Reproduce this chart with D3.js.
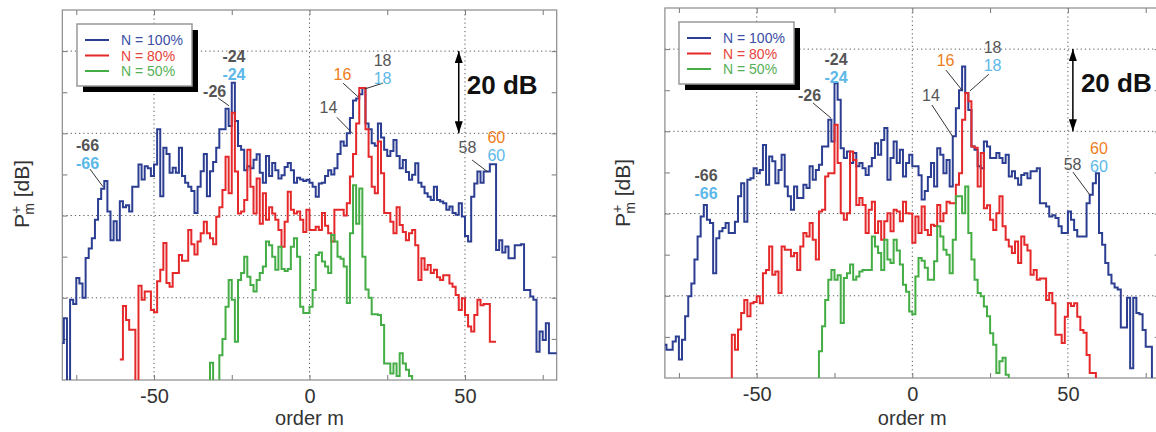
<!DOCTYPE html>
<html>
<head>
<meta charset="utf-8">
<script src="https://cdn.jsdelivr.net/npm/d3@7"></script>
<style>
  body { margin: 0; background: #fff; }
  svg { display: block; font-family: "Liberation Sans", Arial, sans-serif; }
</style>
</head>
<body>
<svg id="chart" width="1156" height="432"></svg>
<script>
// legend + axes
const legendLabels = ["N = 100%", "N = 80%", "N = 50%"];
const xMajorTicks = [-50, 0, 50];
const xMinorTicks = [-75, -25, 25, 75];
const yGridLines = [20, 40, 60, 80];
const yTicks = [10, 20, 30, 40, 50, 60, 70, 80];

// left panel, P_m+ in dB (0 = bottom of the axes), one value per order m
const aBlueFrom = -80;
const aBlue = [
  9, 9, 15, -5, 19.5, 18.5, 24.8, 23.5, 20, 29.7,
  32, 34.5, 39, 44, 46.5, 48.4, 41, 34, 38.6, 34,
  43.5, 42, 42.5, 41, 47, 47, 52.4, 48.8, 52, 51.5,
  49.6, 52.4, 61, 44.7, 56.5, 55, 50.4, 51.6, 50.4, 56.5,
  49.6, 48, 47, 46, 40.6, 47, 50.8, 55, 44.7, 50.8,
  53, 56.5, 61, 61, 66, 61.8, 72.3, 63, 56.9, 56,
  51, 52, 51.5, 53.6, 54.9, 50.4, 48, 54.5, 49.6, 52.8,
  51, 49, 49.8, 51.8, 52.8, 51, 48, 49.2, 48.8, 48.4,
  48.7, 48, 47, 44.6, 47.8, 48, 49.6, 51, 50, 51.5,
  55, 58, 57, 60, 63.7, 68, 68.5, 69.5, 71, 62.4,
  61, 57.6, 57, 62.4, 59, 56, 54.5, 55.7, 58.4, 54.5,
  51.5, 53.5, 50.6, 48.7, 49.9, 52.7, 48, 47, 45.4, 44.6,
  43.8, 47, 43.8, 43.4, 43, 41.4, 42.2, 40.6, 40.2, 43,
  39.8, 35, 33.7, 44.6, 47.8, 50.7, 48, 50.7, 50.7, 52.5,
  52.5, 31.6, 34, 31, 32.5, 29.6, 29.6, 32.8, 32.8, 33,
  21.9, 21.9, 20.3, 19.5, 6.9, 11.8, 9.7, 13.8, 6.5, 6.5, 6.5
];
const aRedFrom = -61;
const aRed = [
  5, 5, 18, 14.6, 12.2, 12.2, -5, 22.9, 19.5, 21.5,
  21.5, 17, 16.5, 24, 26.8, 33.3, 23.6, 22.7, 26, 26,
  30.4, 29, 29, 36.5, 33, 30.5, 33.7, 35.7, 38.5, 35.7,
  34.5, 33, 39.7, 42, 46.2, 54.3, 45.4, 65, 50.7, 40.5,
  41, 43.8, 56, 47, 40.5, 49, 38, 45.4, 39, 42,
  40.5, 39, 36.5, 32.4, 38.5, 45.8, 41.4, 40.5, 41, 39,
  36, 41.4, 36.5, 36.5, 37.3, 36.5, 40.6, 37.5, 35.7, 33.7,
  41.4, 41.4, 41.4, 40, 43, 49.5, 55, 62.4, 71, 71,
  61, 54.3, 47, 45.4, 58, 50.3, 40.6, 40.6, 38.5, 35.7,
  42, 37.7, 36, 34, 35.7, 36.5, 32.8, 24.3, 29.6, 26.8,
  28, 26, 26.8, 25, 24.3, 25.5, 25.5, 23.5, 22.7, 20.7,
  17, 19.9, 15.8, 13, 11.8, 15.8, 19.5, 18.2, 18.5, 18.5,
  9.3, 9.3
];
const aGreenFrom = -32;
const aGreen = [
  -5, 4.2, -5, -5, 6, 10, 17.8, 24.3, 19.5, 9.3,
  24.3, 26, 30, 25.1, 23.1, 21.5, 24.3, 26, 27.6, 33.7,
  32.8, 30, 26.8, 32.4, 27, 26.5, 27, 32.4, 34.5, 30,
  17.8, 16.3, 16.3, 17.8, 21.9, 30.4, 31, 28.8, 27.6, 26,
  35.3, 33.7, 30, 29.5, 27.6, 18.7, 35.7, 47.4, 38, 46.6,
  30, 22, 20, 16, 16, 15.8, 13.4, 4, 4, 1.6,
  4, 1, 6.5, 4, 2.5, 1, -5
];

// right panel
const bBlueFrom = -80;
const bBlue = [
  -5,
  8.1, 6.9, 6.9, 8.9, 10.1, 4.5, 9.3, 15, 19.9, 23,
  28.8, 34.4, 39.3, 42.1, 38.5, 37.7, 25.5, 34, 35.7, 36.5,
  37.7, 35.3, 35.3, 38, 44.2, 47.4, 38, 48.2, 48.6, 51,
  49.8, 50.6, 56.7, 47, 53.9, 52.7, 47.4, 50.6, 54.3, 46.6,
  44.2, 40.9, 46.6, 43.8, 43.8, 47, 46.2, 51.5, 48.2, 50.6,
  51.9, 56.3, 56.3, 62.8, 57.5, 71.7, 67.7, 55.9, 53.5, 55.1,
  52.3, 54.7, 51.5, 52.3, 51, 49.4, 51.5, 53.5, 57.1, 54.3,
  57.9, 60.8, 48.2, 53.5, 57.5, 52.3, 55.5, 49, 52.3, 54.3,
  51.5, 51.5, 49.3, 43.4, 45.5, 48.9, 52.3, 46.6, 55.9, 54.3,
  49.8, 53, 46.6, 58.8, 65.6, 70, 75.8, 69.3, 65.2, 56.3,
  55.5, 51.5, 51, 57.5, 56.3, 53.5, 53.5, 54.7, 53.5, 52.3,
  54.3, 49, 50.3, 48.6, 47, 49.4, 49.8, 48.6, 50.3, 50.3,
  51, 42.5, 42.5, 41.7, 39.3, 39.6, 38.9, 36.9, 35.3, 35.3,
  40.5, 38.5, 36, 34.4, 34.4, 34.4, 42.5, 44.6, 47.4, 49.8,
  35.3, 32.4, 28, 25.1, 23, 22, 21.5, 12.3, 12.3, 19.5,
  2.4, 19.5, 15.8, 15.5, 11.7, 7.6, 7.6, -5, -5, -5
];
const bRedFrom = -58;
const bRed = [
  -5,
  10.5, 6.9, 11.8, 15.8, 19, 15, 18.2, 18.5, 19.9, 18.2,
  25.5, 26.3, 32, 25.1, 25.9, 20.7, 32, 31.2, 31.2, 29.6,
  30.4, 26.3, 32, 35.3, 34.4, 37.7, 33.6, 28.8, 40.5, 40.9,
  49, 49.8, 49.8, 61.6, 52.3, 40.1, 38.5, 40.1, 55.1, 53,
  42.1, 43.8, 42.1, 35.3, 40.9, 42.9, 35.3, 38.1, 33.6, 38.1,
  40.1, 35.7, 40.9, 40.5, 38.1, 42.9, 40.1, 40, 32.9, 39.3,
  35.3, 41.7, 36, 34.8, 37.3, 37, 42.1, 38.1, 40.1, 42.9,
  42.5, 42.5, 47, 49.8, 62.8, 69.3, 67.3, 56.3, 56, 46.6,
  54.7, 41.3, 42, 38.5, 36, 40.1, 44.2, 36.9, 33.6, 32,
  30.4, 33.2, 28, 34.4, 32.4, 31, 25.1, 26.3, 23.9, 24.2,
  24.2, 19, 20.7, 18.2, 10.5, 10.5, 8.5, 14.9, 18.2, 17.5,
  18.2, 14.9, 11.7, 11, 5.6, 1.2, 1.2, -5
];
const bGreenFrom = -30;
const bGreen = [
  -5,
  6.5, 12.6, 19, 23.9, 26.3, 23.9, 25, 13.4, 24.3, 25.5,
  27.6, 23.9, 24.7, 25.9, 26.3, 26.3, 26.3, 34.4, 32, 30.4,
  26.3, 33.6, 28.8, 28, 33.6, 31, 27.6, 22.7, 21, 16.2,
  15.5, 24.7, 29.2, 28.5, 26.8, 23.9, 23.9, 28.4, 36.9, 34.4,
  31.2, 30, 25.5, 33.6, 44.2, 44.2, 40.1, 46.6, 35.3, 28.8,
  23.9, 20.7, 19.9, 17.4, 15, 10.9, 8.1, 1.2, 4.1, 4.9,
  0.8, -5
];

// order labels: [m, dB, lines of [text, kind]]
const aNotes = [
  [-24.3, 77.4, [["-24", "grey"], ["-24", "cyan"]]],
  [-30.5, 68.8, [["-26", "grey"]]],
  [-71.4, 55.6, [["-66", "grey"], ["-66", "cyan"]]],
  [10.6, 73, [["16", "orange"]]],
  [23.5, 76.5, [["18", "grey"], ["18", "cyan"]]],
  [6.1, 64.9, [["14", "grey"]]],
  [50.8, 55.2, [["58", "grey"]]],
  [60.1, 57.6, [["60", "orange"], ["60", "cyan"]]]
];
const aLeaders = [
  [-29.4, 68.6, -25.9, 66.7], [-70.6, 51.3, -66.4, 47],
  [10.8, 72.2, 15.6, 68.9], [23.6, 72.2, 17.8, 70.8],
  [8.8, 63.9, 13.7, 60.1], [52.3, 53.5, 57.4, 50.6]
];
const bNotes = [
  [-24.5, 76.2, [["-24", "grey"], ["-24", "cyan"]]],
  [-33, 67.4, [["-26", "grey"]]],
  [-66.3, 48, [["-66", "grey"], ["-66", "cyan"]]],
  [10.7, 75.9, [["16", "orange"]]],
  [25.8, 79.1, [["18", "grey"], ["18", "cyan"]]],
  [6, 67.4, [["14", "grey"]]],
  [51.5, 50.6, [["58", "grey"]]],
  [60, 54.6, [["60", "orange"], ["60", "cyan"]]]
];
const bLeaders = [
  [-31.9, 66.9, -26.1, 63.2],
  [10.8, 74.9, 16, 70], [24.6, 73.9, 18.5, 69.8],
  [6.3, 66.4, 13.1, 58.6], [51.6, 50.1, 57.1, 44.5]
];

const seriesColors = ["#2c3e92", "#e5292b", "#45ad45"];
const legendTextColors = ["#3a4ea6", "#e8433c", "#55b055"];
const noteColors = { grey: "#555555", cyan: "#5bb8e8", orange: "#ee7d1c" };

const svg = d3.select("#chart");

const defs = svg.append("defs");
defs.append("marker")
  .attr("id", "head")
  .attr("viewBox", "0 0 12 8")
  .attr("refX", 12)
  .attr("refY", 4)
  .attr("markerWidth", 12)
  .attr("markerHeight", 8)
  .attr("markerUnits", "userSpaceOnUse")
  .attr("orient", "auto-start-reverse")
  .append("path")
  .attr("d", "M0,0 L12,4 L0,8 z")
  .attr("fill", "#000");

function drawPanel(p) {
  const g = svg.append("g").attr("id", p.id);

  const x = d3.scaleLinear().domain([-79.5, 79.5]).range([p.left, p.right]);
  const y = d3.scaleLinear().domain([0, 90]).range([p.bottom, p.top]);

  defs.append("clipPath")
    .attr("id", "clip-" + p.id)
    .append("rect")
    .attr("x", p.left)
    .attr("y", p.top)
    .attr("width", p.right - p.left)
    .attr("height", p.bottom - p.top);

  // dotted grid
  g.selectAll(".vgrid")
    .data(xMajorTicks)
    .enter()
    .append("line")
    .attr("x1", (d) => x(d))
    .attr("x2", (d) => x(d))
    .attr("y1", p.top)
    .attr("y2", p.bottom)
    .attr("stroke", "#555")
    .attr("stroke-width", 1)
    .attr("stroke-dasharray", "1.2,3");
  g.selectAll(".hgrid")
    .data(yGridLines)
    .enter()
    .append("line")
    .attr("x1", p.left)
    .attr("x2", p.right)
    .attr("y1", (d) => y(d))
    .attr("y2", (d) => y(d))
    .attr("stroke", "#555")
    .attr("stroke-width", 1)
    .attr("stroke-dasharray", "1.2,3");

  // axes with inward ticks
  const xAll = xMinorTicks.concat(xMajorTicks);
  const bottomAxis = g.append("g")
    .attr("transform", `translate(0,${p.bottom})`)
    .call(d3.axisBottom(x).tickValues(xAll).tickSize(-5).tickSizeOuter(0).tickPadding(9)
      .tickFormat((d) => (xMajorTicks.includes(d) ? String(d) : "")));
  g.append("g")
    .attr("transform", `translate(0,${p.top})`)
    .call(d3.axisTop(x).tickValues(xAll).tickSize(-5).tickSizeOuter(0).tickFormat(""));
  g.append("g")
    .attr("transform", `translate(${p.left},0)`)
    .call(d3.axisLeft(y).tickValues(yTicks).tickSize(-5).tickSizeOuter(0).tickFormat(""));
  g.append("g")
    .attr("transform", `translate(${p.right},0)`)
    .call(d3.axisRight(y).tickValues(yTicks).tickSize(-5).tickSizeOuter(0).tickFormat(""));
  g.selectAll(".domain").remove();
  g.selectAll(".tick line").attr("stroke", "#777");
  bottomAxis.selectAll("text")
    .attr("fill", "#333")
    .style("font-size", "20px")
    .style("font-family", "'Liberation Sans', Arial, sans-serif");

  // box
  g.append("rect")
    .attr("x", p.left)
    .attr("y", p.top)
    .attr("width", p.right - p.left)
    .attr("height", p.bottom - p.top)
    .attr("fill", "none")
    .attr("stroke", "#8a8a8a")
    .attr("stroke-width", 1.2);

  // stair lines
  const line = d3.line()
    .x((d) => x(d.m))
    .y((d) => y(d.v))
    .curve(d3.curveStepBefore);
  const plot = g.append("g").attr("clip-path", `url(#clip-${p.id})`);
  p.series.forEach((s, i) => {
    const pts = s.values.map((v, k) => ({ m: s.from + k, v: v }));
    plot.append("path")
      .datum(pts)
      .attr("d", line)
      .attr("fill", "none")
      .attr("stroke", seriesColors[i])
      .attr("stroke-width", 2)
      .attr("stroke-linejoin", "miter");
  });

  // legend
  const lg = g.append("g").attr("transform", `translate(${p.legendX},${p.legendY})`);
  lg.append("rect")
    .attr("x", 6).attr("y", 6).attr("width", 115).attr("height", 62)
    .attr("fill", "#000");
  lg.append("rect")
    .attr("width", 115).attr("height", 62)
    .attr("fill", "#fff")
    .attr("stroke", "#999")
    .attr("stroke-width", 1.5);
  legendLabels.forEach((lab, i) => {
    const ly = 16 + i * 15.5;
    lg.append("line")
      .attr("x1", 8).attr("x2", 32)
      .attr("y1", ly).attr("y2", ly)
      .attr("stroke", seriesColors[i])
      .attr("stroke-width", 2);
    lg.append("text")
      .attr("x", 44).attr("y", ly + 5)
      .attr("fill", legendTextColors[i])
      .style("font-size", "14px")
      .text(lab);
  });

  // order labels and leader lines
  g.selectAll(".lead")
    .data(p.leaders)
    .enter()
    .append("line")
    .attr("x1", (d) => x(d[0]))
    .attr("y1", (d) => y(d[1]))
    .attr("x2", (d) => x(d[2]))
    .attr("y2", (d) => y(d[3]))
    .attr("stroke", "#333")
    .attr("stroke-width", 1);
  const notes = g.selectAll(".note")
    .data(p.notes)
    .enter()
    .append("text")
    .attr("x", (d) => x(d[0]))
    .attr("y", (d) => y(d[1]))
    .attr("text-anchor", "middle")
    .style("font-size", "16px")
    .style("font-weight", (d) => (d[2][0][0].startsWith("-") ? "bold" : "normal"));
  notes.selectAll("tspan")
    .data((d) => d[2].map((row) => ({ row: row, x: x(d[0]) })))
    .enter()
    .append("tspan")
    .attr("x", (t) => t.x)
    .attr("dy", (t, i) => (i === 0 ? 0 : 18))
    .attr("fill", (t) => noteColors[t.row[1]])
    .text((t) => t.row[0]);

  // 20 dB scale arrow
  g.append("line")
    .attr("x1", x(p.arrowM)).attr("x2", x(p.arrowM))
    .attr("y1", y(80)).attr("y2", y(60))
    .attr("stroke", "#000")
    .attr("stroke-width", 1.5)
    .attr("marker-start", "url(#head)")
    .attr("marker-end", "url(#head)");
  g.append("text")
    .attr("x", x(p.arrowM) + 8)
    .attr("y", y(69.5))
    .style("font-size", "26px")
    .style("font-weight", "bold")
    .attr("fill", "#111")
    .text("20 dB");

  // axis titles
  g.append("text")
    .attr("x", x(0))
    .attr("y", 425)
    .attr("text-anchor", "middle")
    .attr("fill", "#333")
    .style("font-size", "20px")
    .text("order m");

  const yl = g.append("text")
    .attr("transform", `translate(${p.ylabelX},${p.ylabelY}) rotate(-90)`)
    .attr("text-anchor", "middle")
    .attr("fill", "#333")
    .style("font-size", "21px");
  yl.append("tspan").text("P");
  yl.append("tspan").attr("dy", -8).style("font-size", "14px").text("+");
  yl.append("tspan").attr("dx", -9).attr("dy", 13).style("font-size", "14px").text("m");
  yl.append("tspan").attr("dy", -5).text(" [dB]");
}

drawPanel({
  id: "a", left: 62.3, right: 556.7, top: 10, bottom: 380,
  legendX: 77, legendY: 24, ylabelX: 29, ylabelY: 194, arrowM: 48,
  series: [
    { values: aBlue, from: aBlueFrom },
    { values: aRed, from: aRedFrom },
    { values: aGreen, from: aGreenFrom }
  ],
  notes: aNotes, leaders: aLeaders
});

drawPanel({
  id: "b", left: 664.9, right: 1159.7, top: 8, bottom: 378,
  legendX: 679, legendY: 22, ylabelX: 630, ylabelY: 193, arrowM: 51.6,
  series: [
    { values: bBlue, from: bBlueFrom },
    { values: bRed, from: bRedFrom },
    { values: bGreen, from: bGreenFrom }
  ],
  notes: bNotes, leaders: bLeaders
});
</script>
</body>
</html>
